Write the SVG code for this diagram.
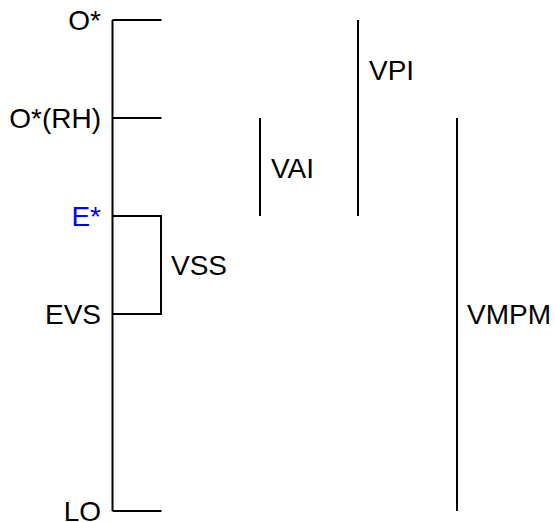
<svg xmlns="http://www.w3.org/2000/svg" width="555" height="522" viewBox="0 0 555 522">
<style>
.ln{stroke:#000;stroke-width:2;fill:none}
text{font-family:"Liberation Sans",Arial,sans-serif;font-size:28px;fill:#000}
.lbl{text-anchor:end}
.blue{fill:#0000ff}
</style>
<rect width="555" height="522" fill="#fff"/>
<g id="connectors">
<path class="ln" d="M112.5,20 V511"/>
<path class="ln" d="M112.5,20 H161.5"/>
<path class="ln" d="M112.5,118 H161.5"/>
<path class="ln" d="M112.5,216 H161 V314 H112.5"/>
<path class="ln" d="M112.5,511 H161.5"/>
<path class="ln" d="M260,118 V216"/>
<path class="ln" d="M358,20 V216"/>
<path class="ln" d="M457,118 V511"/>
</g>
<g id="node-O"><text class="lbl" x="101" y="30">O*</text></g>
<g id="node-ORH"><text class="lbl" x="101" y="128">O*(RH)</text></g>
<g id="node-E"><text class="lbl blue" x="101" y="226">E*</text></g>
<g id="node-EVS"><text class="lbl" x="101" y="324">EVS</text></g>
<g id="node-LO"><text class="lbl" x="101" y="521">LO</text></g>
<g id="node-VSS"><text x="171" y="275">VSS</text></g>
<g id="node-VAI"><text x="271" y="178">VAI</text></g>
<g id="node-VPI"><text x="369" y="80">VPI</text></g>
<g id="node-VMPM"><text x="467" y="324">VMPM</text></g>
</svg>
